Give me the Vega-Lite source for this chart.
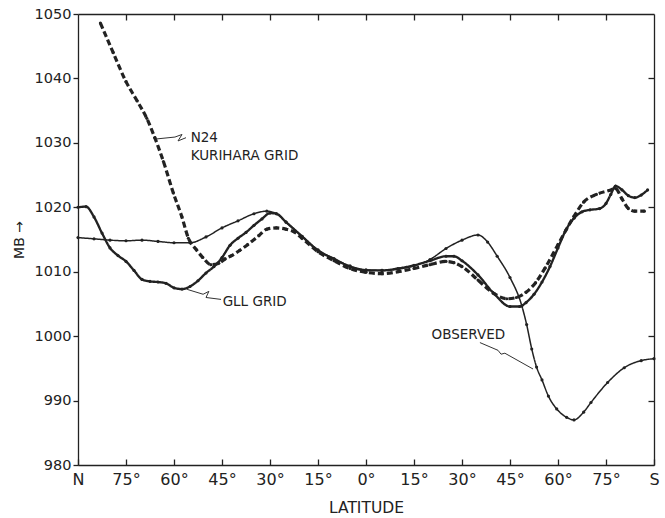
{
  "$schema": "https://vega.github.io/schema/vega-lite/v6.json",
  "width": 576,
  "height": 451,
  "autosize": {"type": "none"},
  "padding": {"left": 78, "top": 14, "right": 11, "bottom": 53},
  "background": "white",
  "config": {
    "view": {"stroke": null},
    "font": "DejaVu Sans",
    "axis": {
      "grid": false,
      "domainColor": "#222",
      "tickColor": "#222",
      "labelColor": "#222",
      "titleColor": "#222",
      "labelFont": "DejaVu Sans",
      "titleFont": "DejaVu Sans",
      "titleFontWeight": "normal",
      "domainWidth": 1.3,
      "tickWidth": 1.3
    }
  },
  "datasets": {
    "curves": [
      {"series": "Observed", "lat": 90, "mb": 1015.3},
      {"series": "Observed", "lat": 85, "mb": 1015.1},
      {"series": "Observed", "lat": 80, "mb": 1014.9},
      {"series": "Observed", "lat": 75, "mb": 1014.8},
      {"series": "Observed", "lat": 70, "mb": 1014.9},
      {"series": "Observed", "lat": 65, "mb": 1014.7},
      {"series": "Observed", "lat": 60, "mb": 1014.5},
      {"series": "Observed", "lat": 55, "mb": 1014.5},
      {"series": "Observed", "lat": 50, "mb": 1015.4},
      {"series": "Observed", "lat": 45, "mb": 1016.8},
      {"series": "Observed", "lat": 40, "mb": 1017.9},
      {"series": "Observed", "lat": 35, "mb": 1019.0},
      {"series": "Observed", "lat": 31, "mb": 1019.4},
      {"series": "Observed", "lat": 28, "mb": 1019.0},
      {"series": "Observed", "lat": 25, "mb": 1017.7},
      {"series": "Observed", "lat": 20, "mb": 1015.5},
      {"series": "Observed", "lat": 15, "mb": 1013.4},
      {"series": "Observed", "lat": 10, "mb": 1012.0},
      {"series": "Observed", "lat": 5, "mb": 1010.9},
      {"series": "Observed", "lat": 0, "mb": 1010.3},
      {"series": "Observed", "lat": -5, "mb": 1010.2},
      {"series": "Observed", "lat": -10, "mb": 1010.4},
      {"series": "Observed", "lat": -15, "mb": 1010.9},
      {"series": "Observed", "lat": -20, "mb": 1011.9},
      {"series": "Observed", "lat": -25, "mb": 1013.6},
      {"series": "Observed", "lat": -30, "mb": 1014.9},
      {"series": "Observed", "lat": -35, "mb": 1015.7},
      {"series": "Observed", "lat": -38, "mb": 1014.6},
      {"series": "Observed", "lat": -41, "mb": 1012.4},
      {"series": "Observed", "lat": -45, "mb": 1009.1},
      {"series": "Observed", "lat": -48.7, "mb": 1004.7},
      {"series": "Observed", "lat": -50.2, "mb": 1001.8},
      {"series": "Observed", "lat": -51.8, "mb": 998.0},
      {"series": "Observed", "lat": -53.3, "mb": 995.2},
      {"series": "Observed", "lat": -55, "mb": 993.2},
      {"series": "Observed", "lat": -57, "mb": 990.7},
      {"series": "Observed", "lat": -59.6, "mb": 988.7},
      {"series": "Observed", "lat": -62.7, "mb": 987.4},
      {"series": "Observed", "lat": -65, "mb": 987.0},
      {"series": "Observed", "lat": -68, "mb": 988.2},
      {"series": "Observed", "lat": -70.3, "mb": 989.7},
      {"series": "Observed", "lat": -75.5, "mb": 992.8},
      {"series": "Observed", "lat": -80.7, "mb": 995.1},
      {"series": "Observed", "lat": -86, "mb": 996.2},
      {"series": "Observed", "lat": -90, "mb": 996.5},

      {"series": "GLL grid", "lat": 90, "mb": 1020.0},
      {"series": "GLL grid", "lat": 87.5, "mb": 1020.1},
      {"series": "GLL grid", "lat": 85, "mb": 1018.5},
      {"series": "GLL grid", "lat": 82.5, "mb": 1016.0},
      {"series": "GLL grid", "lat": 80, "mb": 1013.7},
      {"series": "GLL grid", "lat": 77.5, "mb": 1012.5},
      {"series": "GLL grid", "lat": 75, "mb": 1011.6},
      {"series": "GLL grid", "lat": 72.5, "mb": 1010.2},
      {"series": "GLL grid", "lat": 70, "mb": 1008.8},
      {"series": "GLL grid", "lat": 67.5, "mb": 1008.5},
      {"series": "GLL grid", "lat": 65, "mb": 1008.4},
      {"series": "GLL grid", "lat": 62.5, "mb": 1008.2},
      {"series": "GLL grid", "lat": 60, "mb": 1007.5},
      {"series": "GLL grid", "lat": 57.5, "mb": 1007.3},
      {"series": "GLL grid", "lat": 55, "mb": 1007.7},
      {"series": "GLL grid", "lat": 52.5, "mb": 1008.6},
      {"series": "GLL grid", "lat": 50, "mb": 1009.8},
      {"series": "GLL grid", "lat": 47.5, "mb": 1010.8},
      {"series": "GLL grid", "lat": 45, "mb": 1012.2},
      {"series": "GLL grid", "lat": 42.5, "mb": 1014.1},
      {"series": "GLL grid", "lat": 40, "mb": 1015.2},
      {"series": "GLL grid", "lat": 37.5, "mb": 1016.1},
      {"series": "GLL grid", "lat": 35, "mb": 1017.2},
      {"series": "GLL grid", "lat": 32.5, "mb": 1018.2},
      {"series": "GLL grid", "lat": 30, "mb": 1019.1},
      {"series": "GLL grid", "lat": 28, "mb": 1019.0},
      {"series": "GLL grid", "lat": 25, "mb": 1017.7},
      {"series": "GLL grid", "lat": 20, "mb": 1015.5},
      {"series": "GLL grid", "lat": 15, "mb": 1013.3},
      {"series": "GLL grid", "lat": 10, "mb": 1012.0},
      {"series": "GLL grid", "lat": 5, "mb": 1010.8},
      {"series": "GLL grid", "lat": 0, "mb": 1010.2},
      {"series": "GLL grid", "lat": -5, "mb": 1010.2},
      {"series": "GLL grid", "lat": -10, "mb": 1010.5},
      {"series": "GLL grid", "lat": -15, "mb": 1011.0},
      {"series": "GLL grid", "lat": -20, "mb": 1011.7},
      {"series": "GLL grid", "lat": -25, "mb": 1012.4},
      {"series": "GLL grid", "lat": -27.5, "mb": 1012.4},
      {"series": "GLL grid", "lat": -30, "mb": 1011.7},
      {"series": "GLL grid", "lat": -35, "mb": 1009.5},
      {"series": "GLL grid", "lat": -40, "mb": 1006.6},
      {"series": "GLL grid", "lat": -45, "mb": 1004.6},
      {"series": "GLL grid", "lat": -48, "mb": 1004.6},
      {"series": "GLL grid", "lat": -50, "mb": 1005.2},
      {"series": "GLL grid", "lat": -52.5, "mb": 1006.5},
      {"series": "GLL grid", "lat": -55, "mb": 1008.4},
      {"series": "GLL grid", "lat": -57.5, "mb": 1010.8},
      {"series": "GLL grid", "lat": -60, "mb": 1013.7},
      {"series": "GLL grid", "lat": -62.5, "mb": 1016.5},
      {"series": "GLL grid", "lat": -65, "mb": 1018.3},
      {"series": "GLL grid", "lat": -67.5, "mb": 1019.3},
      {"series": "GLL grid", "lat": -70, "mb": 1019.6},
      {"series": "GLL grid", "lat": -73, "mb": 1019.8},
      {"series": "GLL grid", "lat": -75, "mb": 1020.6},
      {"series": "GLL grid", "lat": -76.5, "mb": 1022.0},
      {"series": "GLL grid", "lat": -78, "mb": 1023.3},
      {"series": "GLL grid", "lat": -80, "mb": 1022.7},
      {"series": "GLL grid", "lat": -82, "mb": 1021.8},
      {"series": "GLL grid", "lat": -84, "mb": 1021.5},
      {"series": "GLL grid", "lat": -86, "mb": 1021.9},
      {"series": "GLL grid", "lat": -88, "mb": 1022.7},

      {"series": "N24 Kurihara grid", "lat": 83, "mb": 1048.6},
      {"series": "N24 Kurihara grid", "lat": 79, "mb": 1044.0},
      {"series": "N24 Kurihara grid", "lat": 75, "mb": 1039.5},
      {"series": "N24 Kurihara grid", "lat": 71.5, "mb": 1036.5},
      {"series": "N24 Kurihara grid", "lat": 68.5, "mb": 1033.8},
      {"series": "N24 Kurihara grid", "lat": 66, "mb": 1030.8},
      {"series": "N24 Kurihara grid", "lat": 63.3, "mb": 1027.1},
      {"series": "N24 Kurihara grid", "lat": 60.2, "mb": 1022.2},
      {"series": "N24 Kurihara grid", "lat": 57.6, "mb": 1018.6},
      {"series": "N24 Kurihara grid", "lat": 55.5, "mb": 1015.2},
      {"series": "N24 Kurihara grid", "lat": 53, "mb": 1013.4},
      {"series": "N24 Kurihara grid", "lat": 51, "mb": 1012.2},
      {"series": "N24 Kurihara grid", "lat": 48.5, "mb": 1011.1},
      {"series": "N24 Kurihara grid", "lat": 46, "mb": 1011.3},
      {"series": "N24 Kurihara grid", "lat": 44, "mb": 1012.0},
      {"series": "N24 Kurihara grid", "lat": 42, "mb": 1012.5},
      {"series": "N24 Kurihara grid", "lat": 39.5, "mb": 1013.3},
      {"series": "N24 Kurihara grid", "lat": 37, "mb": 1014.2},
      {"series": "N24 Kurihara grid", "lat": 33.5, "mb": 1015.6},
      {"series": "N24 Kurihara grid", "lat": 31, "mb": 1016.6},
      {"series": "N24 Kurihara grid", "lat": 28, "mb": 1016.8},
      {"series": "N24 Kurihara grid", "lat": 25, "mb": 1016.6},
      {"series": "N24 Kurihara grid", "lat": 22.5, "mb": 1016.2},
      {"series": "N24 Kurihara grid", "lat": 20, "mb": 1015.2},
      {"series": "N24 Kurihara grid", "lat": 15, "mb": 1013.1},
      {"series": "N24 Kurihara grid", "lat": 10, "mb": 1011.7},
      {"series": "N24 Kurihara grid", "lat": 5, "mb": 1010.5},
      {"series": "N24 Kurihara grid", "lat": 0, "mb": 1009.9},
      {"series": "N24 Kurihara grid", "lat": -5, "mb": 1009.7},
      {"series": "N24 Kurihara grid", "lat": -10, "mb": 1010.0},
      {"series": "N24 Kurihara grid", "lat": -15, "mb": 1010.5},
      {"series": "N24 Kurihara grid", "lat": -20, "mb": 1011.1},
      {"series": "N24 Kurihara grid", "lat": -25, "mb": 1011.6},
      {"series": "N24 Kurihara grid", "lat": -27.5, "mb": 1011.4},
      {"series": "N24 Kurihara grid", "lat": -30, "mb": 1010.8},
      {"series": "N24 Kurihara grid", "lat": -35, "mb": 1008.7},
      {"series": "N24 Kurihara grid", "lat": -40, "mb": 1006.6},
      {"series": "N24 Kurihara grid", "lat": -44, "mb": 1005.8},
      {"series": "N24 Kurihara grid", "lat": -47, "mb": 1006.0},
      {"series": "N24 Kurihara grid", "lat": -50, "mb": 1006.8},
      {"series": "N24 Kurihara grid", "lat": -53, "mb": 1008.3},
      {"series": "N24 Kurihara grid", "lat": -56, "mb": 1010.6},
      {"series": "N24 Kurihara grid", "lat": -60, "mb": 1014.2},
      {"series": "N24 Kurihara grid", "lat": -65, "mb": 1018.6},
      {"series": "N24 Kurihara grid", "lat": -68, "mb": 1020.8},
      {"series": "N24 Kurihara grid", "lat": -72, "mb": 1022.0},
      {"series": "N24 Kurihara grid", "lat": -76, "mb": 1022.6},
      {"series": "N24 Kurihara grid", "lat": -78, "mb": 1022.9},
      {"series": "N24 Kurihara grid", "lat": -80, "mb": 1021.3},
      {"series": "N24 Kurihara grid", "lat": -82, "mb": 1019.8},
      {"series": "N24 Kurihara grid", "lat": -84, "mb": 1019.4},
      {"series": "N24 Kurihara grid", "lat": -87, "mb": 1019.4}
    ],
    "leaders": [
      {"lead": "N24", "i": 1, "lat": 65.6, "mb": 1030.6},
      {"lead": "N24", "i": 2, "lat": 59.7, "mb": 1030.9},
      {"lead": "N24", "i": 3, "lat": 57.5, "mb": 1031.3},
      {"lead": "N24", "i": 4, "lat": 58.75, "mb": 1030.3},
      {"lead": "N24", "i": 5, "lat": 56.25, "mb": 1030.8},
      {"lead": "GLL", "i": 1, "lat": 55.9, "mb": 1007.26},
      {"lead": "GLL", "i": 2, "lat": 50.9, "mb": 1006.5},
      {"lead": "GLL", "i": 3, "lat": 49.1, "mb": 1006.95},
      {"lead": "GLL", "i": 4, "lat": 50.0, "mb": 1006.0},
      {"lead": "GLL", "i": 5, "lat": 45.3, "mb": 1005.7},
      {"lead": "OBS", "i": 1, "lat": -35.6, "mb": 999.0},
      {"lead": "OBS", "i": 2, "lat": -41.25, "mb": 997.8},
      {"lead": "OBS", "i": 3, "lat": -42.2, "mb": 997.2},
      {"lead": "OBS", "i": 4, "lat": -43.4, "mb": 997.35},
      {"lead": "OBS", "i": 5, "lat": -52.2, "mb": 994.9}
    ],
    "labels": [
      {"lat": 54.8, "mb": 1030.8, "text": "N24"},
      {"lat": 54.8, "mb": 1028.0, "text": "KURIHARA GRID"},
      {"lat": 44.8, "mb": 1005.3, "text": "GLL GRID"},
      {"lat": -20.5, "mb": 1000.1, "text": "OBSERVED"}
    ]
  },
  "layer": [
    {
      "data": {"name": "curves"},
      "mark": {
        "type": "line",
        "interpolate": "monotone",
        "color": "#222",
        "point": {"filled": true, "size": 10, "color": "#222"}
      },
      "encoding": {
        "x": {
          "field": "lat",
          "type": "quantitative",
          "scale": {"domain": [90, -90], "nice": false, "zero": false},
          "axis": {
            "orient": "bottom",
            "values": [90, 75, 60, 45, 30, 15, 0, -15, -30, -45, -60, -75, -90],
            "labelExpr": "datum.value == 90 ? 'N' : datum.value == -90 ? 'S' : abs(datum.value) + '°'",
            "tickSize": -6,
            "labelPadding": 12,
            "labelFontSize": 16,
            "labelFlush": false,
            "title": "LATITUDE",
            "titleFontSize": 15.5,
            "titlePadding": 13
          }
        },
        "y": {
          "field": "mb",
          "type": "quantitative",
          "scale": {"domain": [980, 1050], "nice": false, "zero": false},
          "axis": {
            "orient": "left",
            "values": [980, 990, 1000, 1010, 1020, 1030, 1040, 1050],
            "format": "d",
            "tickSize": 5,
            "labelPadding": 2,
            "labelFontSize": 14.5,
            "title": "MB →",
            "titleFontSize": 14,
            "titlePadding": 8
          }
        },
        "detail": {"field": "series", "type": "nominal"},
        "strokeWidth": {
          "field": "series",
          "type": "nominal",
          "scale": {"domain": ["Observed", "GLL grid", "N24 Kurihara grid"], "range": [1.5, 3.2, 2]},
          "legend": null
        },
        "strokeDash": {
          "field": "series",
          "type": "nominal",
          "scale": {"domain": ["Observed", "GLL grid", "N24 Kurihara grid"], "range": [[1, 0], [1, 0], [6, 3]]},
          "legend": null
        }
      }
    },
    {
      "data": {"name": "leaders"},
      "mark": {"type": "line", "color": "#333", "strokeWidth": 1},
      "encoding": {
        "x": {
          "field": "lat",
          "type": "quantitative",
          "scale": {"domain": [90, -90], "nice": false, "zero": false},
          "axis": {
            "orient": "top",
            "values": [75, 60, 45, 30, 15, 0, -15, -30, -45, -60, -75],
            "labels": false,
            "tickSize": -6,
            "title": null
          }
        },
        "y": {
          "field": "mb",
          "type": "quantitative",
          "scale": {"domain": [980, 1050], "nice": false, "zero": false},
          "axis": {
            "orient": "right",
            "values": [990, 1000, 1010, 1020, 1030, 1040],
            "labels": false,
            "tickSize": -6,
            "title": null
          }
        },
        "detail": {"field": "lead", "type": "nominal"},
        "order": {"field": "i", "type": "quantitative"}
      }
    },
    {
      "data": {"name": "labels"},
      "mark": {"type": "text", "align": "left", "baseline": "middle", "fontSize": 13.5, "color": "#222", "font": "DejaVu Sans"},
      "encoding": {
        "x": {"field": "lat", "type": "quantitative", "scale": {"domain": [90, -90], "nice": false, "zero": false}, "axis": null},
        "y": {"field": "mb", "type": "quantitative", "scale": {"domain": [980, 1050], "nice": false, "zero": false}, "axis": null},
        "text": {"field": "text", "type": "nominal"}
      }
    }
  ],
  "resolve": {"axis": {"x": "independent", "y": "independent"}}
}
